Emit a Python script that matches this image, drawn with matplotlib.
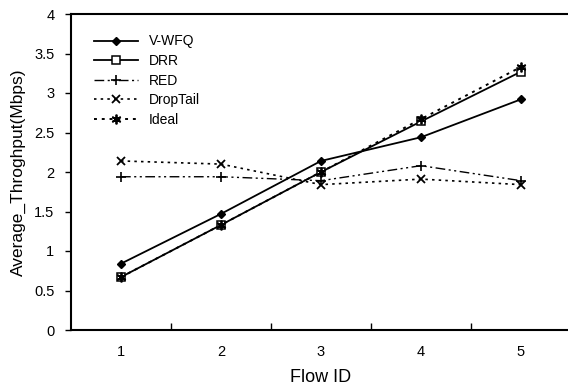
import matplotlib
matplotlib.use('Agg')
import matplotlib.pyplot as plt

# data
flows = [1, 2, 3, 4, 5]
vwfq = [0.84, 1.47, 2.14, 2.44, 2.92]
drr = [0.67, 1.33, 2.00, 2.64, 3.27]
red = [1.94, 1.94, 1.89, 2.08, 1.89]
droptail = [2.14, 2.10, 1.84, 1.91, 1.84]
ideal = [0.67, 1.33, 2.00, 2.67, 3.33]

plt.rcParams['font.family'] = ['Liberation Sans', 'DejaVu Sans']

fig = plt.figure(figsize=(5.68, 3.91), dpi=100)
ax = fig.add_axes([71 / 568, 61 / 391, 500 / 568, 316 / 391])

ax.plot(flows, vwfq, color='black', lw=1.3, marker='D', ms=4.5,
        mfc='black', label='V-WFQ')
ax.plot(flows, drr, color='black', lw=1.3, marker='s', ms=6,
        mfc='white', mew=1.1, label='DRR')
ax.plot(flows, red, color='black', lw=1.0, dashes=(7, 2.5, 1.5, 2.5, 1.5, 2.5),
        marker='+', ms=7, mew=1.2, label='RED')
ax.plot(flows, droptail, color='black', lw=1.2, dashes=(1.5, 2.5),
        marker='x', ms=6, mew=1.3, label='DropTail')
ax.plot(flows, ideal, color='black', lw=1.4, dashes=(1.5, 2.5),
        marker=(6, 2, 0), ms=7, mew=1.3, label='Ideal')

ax.set_xlim(0.5, 5.5)
ax.set_ylim(0, 4)
ax.set_xticks(flows)
ax.set_xticks([1.5, 2.5, 3.5, 4.5], minor=True)
ax.set_yticks([0, 0.5, 1, 1.5, 2, 2.5, 3, 3.5, 4])
ax.set_yticklabels(['0', '0.5', '1', '1.5', '2', '2.5', '3', '3.5', '4'])
ax.tick_params(axis='x', which='major', length=0, pad=11, labelsize=10.5)
ax.tick_params(axis='x', which='minor', direction='in', length=5, width=1)
ax.tick_params(axis='y', direction='out', length=4, width=1, pad=8, labelsize=10.5)

for s in ax.spines.values():
    s.set_linewidth(1.5)

ax.set_xlabel('Flow ID', fontsize=13, labelpad=7)
ax.set_ylabel('Average_Throghput(Mbps)', fontsize=12.5, labelpad=6)

ax.legend(loc='upper left', bbox_to_anchor=(0.02, 0.975), frameon=False,
          fontsize=10, handlelength=3.2, labelspacing=0.4, handletextpad=0.8)

fig.savefig('out.png', dpi=100)
